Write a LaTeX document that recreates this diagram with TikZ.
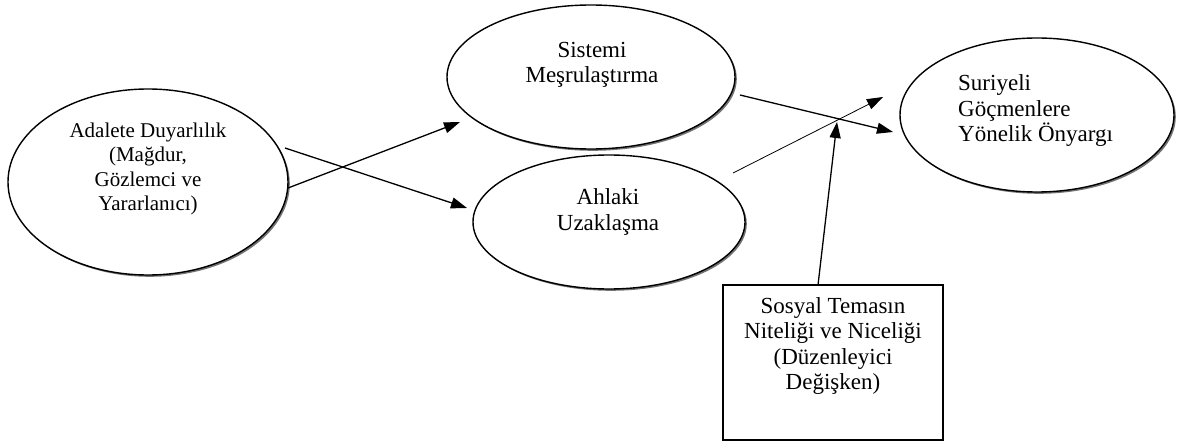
\documentclass[tikz,border=0pt]{standalone}
\usepackage{fontspec}
\setmainfont{Liberation Serif}
\usetikzlibrary{arrows.meta,shadows,shapes.geometric}
\begin{document}
\begin{tikzpicture}[x=1pt,y=-1pt,
  ell/.style={draw, line width=1.4pt, ellipse, inner sep=0pt, fill=white,
    drop shadow={shadow xshift=1.8pt, shadow yshift=-1.8pt, fill=black!55, opacity=1}},
  txt/.style={font=\fontsize{23}{25.5}\selectfont, align=center, inner sep=0pt},
  smalltxt/.style={txt, font=\fontsize{21}{24.5}\selectfont},
  arr/.style={line width=1.3pt, -{Triangle[length=16pt,width=11pt]}},
  thinarr/.style={line width=0.8pt, -{Triangle[length=16pt,width=11pt]}},
  boxst/.style={draw, line width=1.2pt, inner sep=0pt}
]
\useasboundingbox[fill=white] (0,0) rectangle (1178,441);

% ellipses
\node[ell, minimum width=280pt, minimum height=186pt] (adalete) at (148,182) {};
\node[ell, minimum width=288pt, minimum height=144pt] (sistemi) at (591,77) {};
\node[ell, minimum width=272pt, minimum height=134pt] (ahlaki) at (609,222) {};
\node[ell, minimum width=274pt, minimum height=154pt] (suriyeli) at (1037,115) {};
\node[boxst, minimum width=220pt, minimum height=155pt] (box) at (833,362.5) {};

% texts
\node[smalltxt] (tadalete) at (148,169) {Adalete Duyarlılık\\(Mağdur,\\Gözlemci ve\\Yararlanıcı)};
\node[txt] (tsistemi) at (592,65) {Sistemi\\Meşrulaştırma};
\node[txt] (tahlaki) at (608,212) {Ahlaki\\Uzaklaşma};
\node[txt, align=left, anchor=west] (tsuriyeli) at (958,111) {Suriyeli\\Göçmenlere\\Yönelik Önyargı};
\node[txt] (tbox) at (833,346) {Sosyal Temasın\\Niteliği ve Niceliği\\(Düzenleyici\\Değişken)};

% connector end points
\coordinate (s1) at (288,188);
\coordinate (e1) at (460,122);
\coordinate (s2) at (285,148);
\coordinate (e2) at (467,208);
\coordinate (s3) at (740,95);
\coordinate (e3) at (893,132);
\coordinate (s4) at (733,173);
\coordinate (e4) at (883,97);
\coordinate (s5) at (818,285);
\coordinate (e5) at (837,122);

\draw[arr] (s1) -- (e1);
\draw[arr] (s2) -- (e2);
\draw[arr] (s3) -- (e3);
\draw[thinarr] (s4) -- (e4);
\draw[arr] (s5) -- (e5);
\end{tikzpicture}
\end{document}
